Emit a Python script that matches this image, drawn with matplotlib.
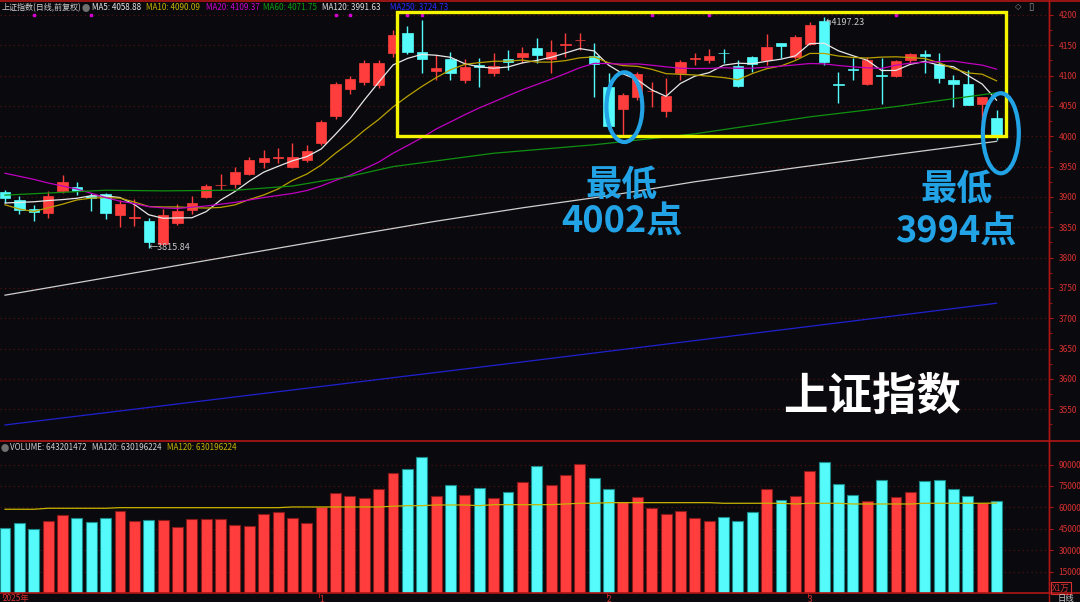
import matplotlib
matplotlib.use('Agg')
import matplotlib.pyplot as plt
from matplotlib.patches import Rectangle, Ellipse
from matplotlib.lines import Line2D
import numpy as np
import pandas as pd

plt.rcParams['font.family'] = ['Noto Sans CJK SC', 'DejaVu Sans']

# ---------------- data ----------------
opens = [3908, 3895, 3880, 3873, 3910, 3916, 3901, 3904, 3870, 3866,
         3861, 3823, 3857, 3879, 3900, 3919, 3921, 3938, 3958, 3965,
         3950, 3961, 3989, 4033, 4078, 4090, 4085, 4137, 4171, 4139.5,
         4108, 4127.5, 4092, 4117.5, 4105, 4127, 4130, 4145.5, 4127, 4151,
         4158, 4132, 4081, 4044.5, 4065, 4074, 4042, 4104, 4127, 4126,
         4138, 4116, 4130, 4125, 4153, 4130, 4152, 4190, 4087, 4111,
         4087, 4100, 4100, 4125, 4135, 4119, 4093, 4087, 4054, 4030]
highs = [3912, 3901, 3887, 3909, 3936, 3925, 3906, 3906, 3895, 3896,
         3865, 3880, 3888, 3902, 3921, 3938, 3950, 3966, 3977, 3980,
         3989, 3985, 4027, 4090, 4100, 4125, 4125, 4175, 4182, 4192,
         4134, 4139.5, 4127.5, 4129, 4137, 4142, 4148, 4162, 4159, 4171,
         4171, 4153, 4105, 4071, 4106.5, 4090, 4096, 4126, 4137, 4144,
         4144, 4125, 4132, 4169, 4153, 4167, 4189, 4197.23, 4106.5, 4129,
         4131, 4129, 4126, 4137, 4142, 4137, 4101, 4109, 4064, 4043]
lows = [3890, 3872, 3860, 3865, 3906, 3903, 3877, 3863, 3851, 3852,
        3815.84, 3820, 3853, 3872, 3898, 3911, 3914, 3936, 3947, 3956,
        3948, 3958, 3985, 4028, 4070, 4085, 4080, 4130, 4135, 4105,
        4093, 4093, 4088, 4082, 4100, 4109, 4120, 4121, 4104, 4131,
        4142, 4065, 4015, 4002, 4060, 4049, 4032, 4093, 4117.5, 4121,
        4121, 4082, 4106.5, 4117.5, 4129, 4128, 4150, 4117.5, 4055, 4092,
        4085, 4053, 4098, 4121, 4104, 4088, 4049, 4052, 4018, 3994]
closes = [3899, 3878, 3875, 3902, 3924, 3910, 3899, 3873, 3889, 3867,
          3825, 3870, 3876, 3890, 3918, 3920, 3941, 3961, 3964, 3966,
          3966, 3975, 4024, 4086, 4094, 4120, 4121, 4167, 4139.5, 4127.5,
          4113, 4104, 4114, 4114, 4116, 4123, 4138, 4134, 4139.5, 4152,
          4159, 4119, 4017, 4068, 4103, 4075, 4066.5, 4123, 4128, 4132,
          4136.5, 4083, 4119, 4148, 4149, 4164, 4183.5, 4123, 4085, 4109,
          4126, 4099, 4124, 4135, 4133, 4095.5, 4086, 4052, 4064, 4000]
volumes = [45770, 48850, 44650, 50250, 54460, 52570, 49770, 52570, 57480, 50250,
           51170, 51170, 46260, 51660, 52080, 52080, 47660, 47190, 55600, 56780,
           52570, 49300, 60070, 70090, 67990, 66590, 72900, 83900, 86700, 95120,
           67990, 75900, 68690, 73380, 66590, 71000, 77800, 88800, 75490, 82500,
           90200, 80400, 72900, 63780, 67290, 59370, 55370, 57480, 52570, 50250,
           53040, 50250, 56540, 72660, 65190, 68220, 85740, 92030, 76600, 68690,
           64700, 79400, 67290, 70800, 78500, 79000, 72900, 67800, 62870, 64320]
vol_ma120 = [58670, 58670, 58670, 59370, 59370, 59370, 59370, 59370, 59790, 59790,
             59790, 59790, 59790, 59790, 59790, 59790, 59790, 59790, 59790, 59790,
             60280, 60280, 60280, 60280, 60280, 60280, 60280, 60770, 61190, 61190,
             61680, 61680, 61680, 61190, 61890, 61890, 61890, 61890, 61890, 62380,
             62870, 62870, 63300, 63300, 63300, 63300, 63300, 63300, 63300, 63300,
             62870, 62870, 62870, 62870, 62870, 62380, 62870, 62870, 62870, 62380,
             62380, 62380, 62380, 62380, 62870, 62870, 62870, 62870, 62870, 63020]

# moving-average values before enough candles exist
ma5_head = [3890, 3891, 3892, 3894]
ma10_head = [3887, 3880, 3876, 3882, 3888, 3895, 3898, 3899, 3898]
ma20_head = [3939, 3934, 3929, 3923, 3918, 3913, 3906, 3899, 3893, 3889,
             3884, 3882, 3881, 3883, 3885, 3888, 3891, 3895, 3899]
ma60_idx = [0, 7, 11, 16, 20, 24, 27, 34, 41, 48, 56, 62, 69]
ma60_val = [3903, 3911, 3910, 3911, 3918, 3934, 3950, 3972, 3986, 4004, 4032, 4049, 4071.75]
ma120_idx = [0, 12, 24, 30, 36, 42, 48, 55, 62, 69]
ma120_val = [3738, 3787, 3836, 3860, 3882, 3902, 3925, 3948, 3970, 3991.63]
ma250_idx = [0, 35, 69]
ma250_val = [3524, 3625, 3724.73]

event_idx = [2, 6, 23, 24, 28, 29, 45, 49, 62]
month_labels = ['2025年', '1', '2', '3']
month_idx = [0, 22, 42, 56]

legend_items = [('MA5: 4058.88', '#e8e8e8'), ('MA10: 4090.09', '#c8b400'),
                ('MA20: 4109.37', '#d000d0'), ('MA60: 4071.75', '#10a010'),
                ('MA120: 3991.63', '#e0e0e0'), ('MA250: 3724.73', '#2a2aff')]

# ---------------- styles ----------------
BG = '#0a0a0e'
RED = '#ff3d3d'
CYAN = '#55fbfb'
AXRED = '#b01515'
LBLRED = '#d83030'
BLUE = '#22a3e6'
W, H = 1080, 602


def fx(x):
    return x / W


def fy(y):
    return 1 - y / H


fig = plt.figure(figsize=(W / 100, H / 100), dpi=100, facecolor=BG)
ax = fig.add_axes([0, fy(440), fx(1049), fy(2) - fy(440)], facecolor=BG)
axv = fig.add_axes([0, fy(593), fx(1049), fy(441) - fy(593)], facecolor=BG)

n = len(closes)
x = np.arange(n)
o = np.array(opens); c = np.array(closes); h = np.array(highs); l = np.array(lows)
up = c >= o
cols = np.where(up, RED, CYAN)

# candles
ax.vlines(x, l, h, colors=cols, lw=1.0, zorder=3)
body_bot = np.minimum(o, c)
body_h = np.maximum(np.abs(c - o), 1.3)
ax.bar(x, body_h, bottom=body_bot, width=0.72, color=cols, edgecolor=cols, lw=0.5, zorder=4)

# moving averages
cs = pd.Series(closes)
ma5 = cs.rolling(5).mean().to_numpy(); ma5[:4] = ma5_head
ma10 = cs.rolling(10).mean().to_numpy(); ma10[:9] = ma10_head
ma20 = cs.rolling(20).mean().to_numpy(); ma20[:19] = ma20_head
ax.plot(x, ma5, color='#e8e8e8', lw=0.9, zorder=5)
ax.plot(x, ma10, color='#b8a000', lw=0.9, zorder=5)
ax.plot(x, ma20, color='#c000c0', lw=0.9, zorder=5)
ax.plot(ma60_idx, ma60_val, color='#109010', lw=0.9, zorder=5)
ax.plot(ma120_idx, ma120_val, color='#cfcfcf', lw=0.9, zorder=5)
ax.plot(ma250_idx, ma250_val, color='#2020d0', lw=0.9, zorder=5)

ax.set_xlim(-0.35, 72.65)
ax.set_ylim(3499.2, 4221.4)
axv.set_xlim(-0.35, 72.65)
axv.set_ylim(0, 106500)

# volume
vcols = np.where(up, RED, CYAN)
vedge = np.where(up, '#8a1a1a', '#1a8a8a')
axv.bar(x, volumes, width=0.76, color=vcols, edgecolor=vedge, lw=0.8, zorder=3)
axv.plot(x, vol_ma120, color='#c8b400', lw=0.9, zorder=4)

# axes styling
for a, ticks in ((ax, np.arange(3550, 4201, 50)), (axv, np.arange(15000, 90001, 15000))):
    a.yaxis.tick_right()
    a.set_yticks(ticks)
    a.set_yticklabels([str(int(t)) for t in ticks])
    a.tick_params(axis='y', colors=AXRED, labelcolor=LBLRED, labelsize=6, length=3,
                  width=0.8, pad=4, direction='out')
    a.set_xticks([])
    a.grid(axis='y', color='#5a1010', ls=(0, (1, 3)), lw=0.8, zorder=0)
    for s in ('left', 'top', 'bottom'):
        a.spines[s].set_visible(False)
    a.spines['right'].set_color(AXRED)
    a.spines['right'].set_linewidth(1.0)
ax.set_yticks(np.arange(3525, 4221, 25), minor=True)
ax.tick_params(axis='y', which='minor', colors=AXRED, length=2, width=0.6)

# frame lines
for yy in (1, 441, 593):
    fig.add_artist(Line2D([0, 1], [fy(yy), fy(yy)], color=AXRED, lw=1.2))
fig.add_artist(Line2D([fx(1049), fx(1049)], [0, 1], color=AXRED, lw=1.0))

# event markers at top
ax.scatter(event_idx, [4200] * len(event_idx), s=4, marker='s', color='#d000d0', zorder=6)

# yellow box
ax.add_patch(Rectangle((27.28, 4000.5), 69.66 - 27.28, 4205 - 4000.5, fill=False,
                       ec='#f5f500', lw=2.4, zorder=7))
# blue ellipses
ax.add_patch(Ellipse((43.1, 4048), 2.5, 115, fill=False, ec=BLUE, lw=3, zorder=8))
ax.add_patch(Ellipse((69.3, 4005), 2.5, 132, fill=False, ec=BLUE, lw=3, zorder=8))

# extremum labels
ax.text(10, 3815.84, '←3815.84', color='#c8c8c8', fontsize=6.5, va='center', ha='left', zorder=9)
ax.text(57, 4196, '↰4197.23', color='#c8c8c8', fontsize=6.5, va='top', ha='left', zorder=9)

# big annotation texts
fig.text(fx(622), fy(186), '最低', color=BLUE, fontsize=26, fontweight='bold', ha='center', va='center')
fig.text(fx(622), fy(222), '4002点', color=BLUE, fontsize=26, fontweight='bold', ha='center', va='center')
fig.text(fx(957), fy(190), '最低', color=BLUE, fontsize=26, fontweight='bold', ha='center', va='center')
fig.text(fx(956), fy(232), '3994点', color=BLUE, fontsize=26, fontweight='bold', ha='center', va='center')
fig.text(fx(872), fy(397), '上证指数', color='white', fontsize=32, fontweight='bold', ha='center', va='center')

# top legend
fig.text(fx(2), fy(8), '上证指数(日线,前复权)', color='#d0d0d0', fontsize=5.8, va='center', ha='left')
fig.text(fx(82), fy(8), '●', color='#707070', fontsize=6, va='center', ha='left')
leg_x = [92, 146, 206, 263, 322, 390]
for (t, col), xx in zip(legend_items, leg_x):
    fig.text(fx(xx), fy(8), t, color=col, fontsize=5.8, va='center', ha='left')

# volume legend
fig.text(fx(1), fy(448), '●', color='#707070', fontsize=6, va='center', ha='left')
fig.text(fx(10), fy(448), 'VOLUME: 643201472', color='#d0d0d0', fontsize=5.8, va='center', ha='left')
fig.text(fx(92), fy(448), 'MA120: 630196224', color='#d0d0d0', fontsize=5.8, va='center', ha='left')
fig.text(fx(167), fy(448), 'MA120: 630196224', color='#c8b400', fontsize=5.8, va='center', ha='left')

# top-right icons
fig.text(fx(1018), fy(7), '◇', color='#909090', fontsize=6, ha='center', va='center', family='DejaVu Sans')
fig.text(fx(1031), fy(7), '▯', color='#909090', fontsize=7, ha='center', va='center', family='DejaVu Sans')

# unit box and date axis
fig.text(fx(1061), fy(588), 'X1万', color=LBLRED, fontsize=6, ha='center', va='center',
         bbox=dict(boxstyle='square,pad=0.15', fc='none', ec=LBLRED, lw=0.8))
fig.text(fx(1066), fy(599), '日线', color='#c8c8c8', fontsize=6, ha='center', va='center')
for lab, mi in zip(month_labels, month_idx):
    xpx = 5 + mi * 14.37 if mi > 0 else 5
    fig.text(fx(xpx - 2), fy(599), lab, color=LBLRED, fontsize=6, ha='left', va='center')
    fig.add_artist(Line2D([fx(xpx - 2), fx(xpx - 2)], [fy(593), fy(597)], color=AXRED, lw=0.8))

fig.savefig('out.png', dpi=100, facecolor=BG)
